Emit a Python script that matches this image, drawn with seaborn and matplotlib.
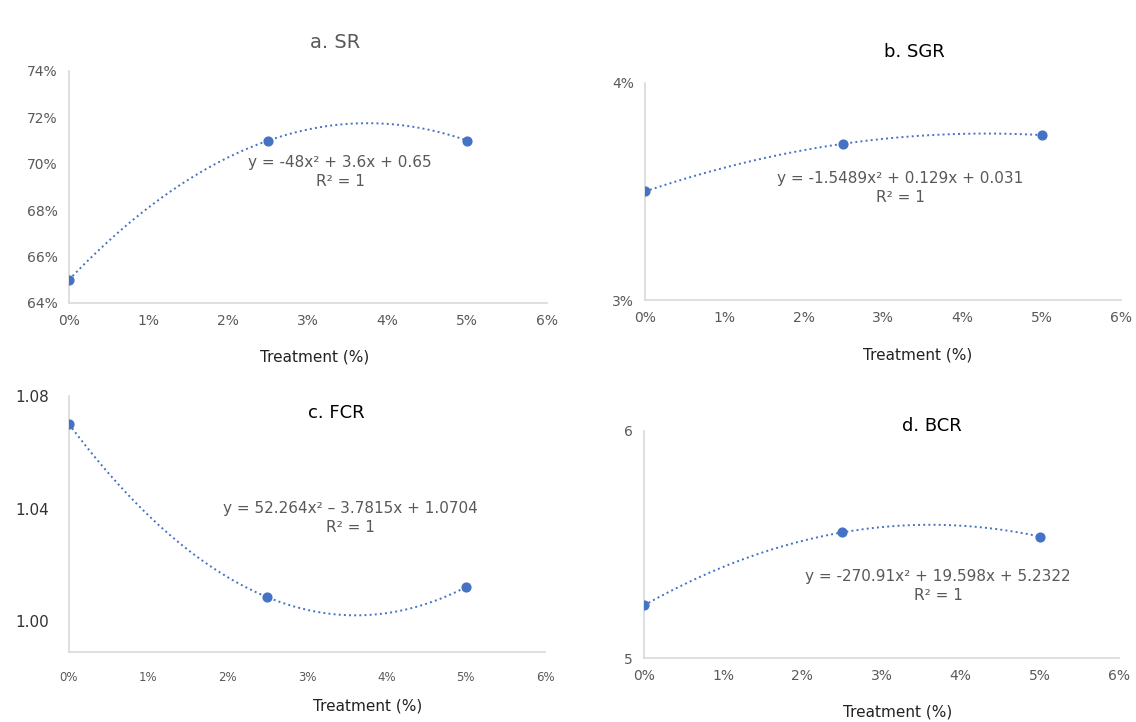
import numpy as np
import seaborn as sns
from matplotlib import pyplot as plt
from matplotlib.ticker import FuncFormatter

# data
treatment = [0.0, 0.025, 0.05]
sr = [0.65, 0.71, 0.71]
sgr = [0.0350, 0.0372, 0.0376]
fcr = [1.070, 1.0085, 1.012]
bcr = [5.232, 5.553, 5.535]

titles = ["a. SR", "b. SGR", "c. FCR", "d. BCR"]
equations = ["y = -48x² + 3.6x + 0.65",
             "y = -1.5489x² + 0.129x + 0.031",
             "y = 52.264x² \u2013 3.7815x + 1.0704",
             "y = -270.91x² + 19.598x + 5.2322"]
x_ticks = [0, 0.01, 0.02, 0.03, 0.04, 0.05, 0.06]

sns.set_theme(style="white")
plt.rcParams['font.family'] = ['DejaVu Sans']

W, H = 1136, 722
fig = plt.figure(figsize=(W / 100, H / 100), dpi=100)
blue = "#4472C4"
grey = "#595959"


def box(l, t, r, b):
    return [l / W, 1 - b / H, (r - l) / W, (b - t) / H]


def put(x, y, s, **kw):
    fig.text(x / W, 1 - y / H, s, ha="center", va="center", **kw)


pct = FuncFormatter(lambda v, p: f"{v * 100:.0f}%")

panels = [
    (box(69, 71, 547, 303), sr, (0.64, 0.74), [0.64, 0.66, 0.68, 0.70, 0.72, 0.74], pct),
    (box(645, 83, 1121, 300), sgr, (0.03, 0.04), [0.03, 0.04], pct),
    (box(69, 396, 545, 652), fcr, (0.989, 1.08), [1.00, 1.04, 1.08],
     FuncFormatter(lambda v, p: f"{v:.2f}")),
    (box(644, 431, 1119, 658), bcr, (5, 6), [5, 6], FuncFormatter(lambda v, p: f"{v:.0f}")),
]

axes = []
for i, (rect, vals, ylim, yt, yfmt) in enumerate(panels):
    ax = fig.add_axes(rect)
    sns.regplot(x=treatment, y=vals, order=2, ci=None, truncate=True, ax=ax,
                color=blue, scatter_kws={"s": 40, "zorder": 3, "alpha": 1},
                line_kws={"ls": ":", "lw": 1.4})
    ax.set_xlim(0, 0.06)
    ax.set_ylim(*ylim)
    ax.set_xticks(x_ticks)
    ax.xaxis.set_major_formatter(pct)
    ax.set_yticks(yt)
    ax.yaxis.set_major_formatter(yfmt)
    sns.despine(ax=ax)
    for s in ["left", "bottom"]:
        ax.spines[s].set_color("#d9d9d9")
        ax.spines[s].set_linewidth(1.2)
    ax.tick_params(length=0, labelsize=10, labelcolor=grey, pad=8)
    ax.set_xlabel("")
    ax.set_ylabel("")
    axes.append(ax)

# panel c uses slightly different tick styling
axes[2].tick_params(axis="y", labelsize=11, labelcolor="#333333", pad=14)
axes[2].tick_params(axis="x", labelsize=8.5, pad=14)

# titles
put(335, 42, titles[0], fontsize=14, color=grey)
put(914, 52, titles[1], fontsize=13, color="black")
put(336, 413, titles[2], fontsize=13, color="black")
put(932, 426, titles[3], fontsize=13, color="black")

# trendline equations
eq_pos = [(340, 162), (900, 178), (350, 509), (938, 576)]
for (x, y), eq in zip(eq_pos, equations):
    put(x, y, eq, fontsize=11, color=grey)
    put(x, y + 19, "R² = 1", fontsize=11, color=grey)

# x labels
for x, y in [(315, 357), (918, 355), (368, 706), (898, 712)]:
    put(x, y, "Treatment (%)", fontsize=11, color="#222222")

fig.savefig("out.png", dpi=100)
